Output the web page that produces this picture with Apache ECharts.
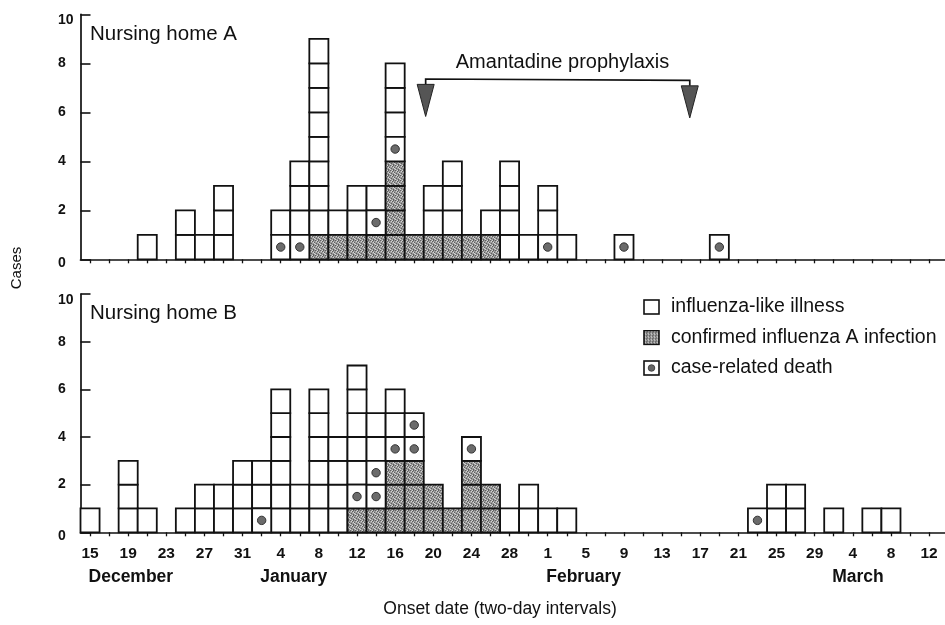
<!DOCTYPE html>
<html><head><meta charset="utf-8">
<script src="https://cdn.jsdelivr.net/npm/echarts@6/dist/echarts.min.js"></script>
<style>html,body{margin:0;padding:0;background:#fff}#c{width:945px;height:625px}</style>
</head><body><div id="c"></div>
<script>
// Two-day onset bins (category axis), Dec 15 .. Mar 14 (leap year)
const dayLabels = [
  'Dec 15','Dec 17','Dec 19','Dec 21','Dec 23','Dec 25','Dec 27','Dec 29','Dec 31',
  'Jan 2','Jan 4','Jan 6','Jan 8','Jan 10','Jan 12','Jan 14','Jan 16','Jan 18','Jan 20','Jan 22','Jan 24','Jan 26','Jan 28','Jan 30',
  'Feb 1','Feb 3','Feb 5','Feb 7','Feb 9','Feb 11','Feb 13','Feb 15','Feb 17','Feb 19','Feb 21','Feb 23','Feb 25','Feb 27','Feb 29',
  'Mar 2','Mar 4','Mar 6','Mar 8','Mar 10','Mar 12','Mar 14'
];
const monthLabels = [['December','Dec 15'],['January','Jan 2'],['February','Feb 1'],['March','Mar 2']];
const yTicks = [0, 2, 4, 6, 8, 10];

// Nursing home A
const homeA_dates = ['Dec 21','Dec 25','Dec 27','Dec 29','Jan 4','Jan 6','Jan 8','Jan 10','Jan 12','Jan 14','Jan 16','Jan 18','Jan 20','Jan 22','Jan 24','Jan 26','Jan 28','Jan 30','Feb 1','Feb 3','Feb 9','Feb 19'];
const homeA_cases = [1,2,1,3,2,4,9,2,3,3,8,1,3,4,1,2,4,1,3,1,1,1];
const homeA_confirmed = [0,0,0,0,0,0,1,1,1,1,4,1,1,1,1,1,0,0,0,0,0,0];
const homeA_deaths = [['Jan 4',1],['Jan 6',1],['Jan 14',2],['Jan 16',5],['Feb 1',1],['Feb 9',1],['Feb 19',1]];

// Nursing home B
const homeB_dates = ['Dec 15','Dec 19','Dec 21','Dec 25','Dec 27','Dec 29','Dec 31','Jan 2','Jan 4','Jan 6','Jan 8','Jan 10','Jan 12','Jan 14','Jan 16','Jan 18','Jan 20','Jan 22','Jan 24','Jan 26','Jan 28','Jan 30','Feb 1','Feb 3','Feb 23','Feb 25','Feb 27','Mar 2','Mar 6','Mar 8'];
const homeB_cases = [1,3,1,1,2,2,3,3,6,2,6,4,7,5,6,5,2,1,4,2,1,2,1,1,1,2,2,1,1,1];
const homeB_confirmed = [0,0,0,0,0,0,0,0,0,0,0,0,1,1,3,3,2,1,3,2,0,0,0,0,0,0,0,0,0,0];
const homeB_deaths = [['Jan 2',1],['Jan 12',2],['Jan 14',2],['Jan 14',3],['Jan 16',4],['Jan 18',4],['Jan 18',5],['Jan 24',4],['Feb 23',1]];

// Amantadine prophylaxis annotation (bin positions)
const amantadine = { label: 'Amantadine prophylaxis', from: 17.6, to: 31.45 };

const names = { ili: 'influenza-like illness', conf: 'confirmed influenza A infection', death: 'case-related death' };

const idx = d => dayLabels.indexOf(d);
function buildBoxes(dates, cases, confirmed, deaths) {
  const ili = [], conf = [], death = [];
  dates.forEach((d, k) => {
    const x = idx(d);
    for (let lvl = 1; lvl <= cases[k]; lvl++) {
      if (lvl <= confirmed[k]) conf.push([x, lvl]);
      else if (deaths.some(([dd, l]) => dd === d && l === lvl)) death.push([x, lvl]);
      else ili.push([x, lvl]);
    }
  });
  return { ili, conf, death };
}
const boxesA = buildBoxes(homeA_dates, homeA_cases, homeA_confirmed, homeA_deaths);
const boxesB = buildBoxes(homeB_dates, homeB_cases, homeB_confirmed, homeB_deaths);

function makeStipple(base, dark, light) {
  const c = document.createElement('canvas'); c.width = 5; c.height = 5;
  const g = c.getContext('2d');
  g.fillStyle = base; g.fillRect(0, 0, 5, 5);
  g.fillStyle = dark; [[0,0],[2,1],[4,2],[1,3],[3,4],[3,0]].forEach(([x,y]) => g.fillRect(x, y, 1, 1));
  g.fillStyle = light; [[1,1],[3,2],[0,4],[4,3],[2,0]].forEach(([x,y]) => g.fillRect(x, y, 1, 1));
  return c;
}
const stipple = { image: makeStipple('#9a9a9a', '#5e5e5e', '#d4d4d4'), repeat: 'repeat' };

const INK = '#111';
const FONT = 'Liberation Sans, Arial, sans-serif';

function boxRenderer(kind) {
  return function (params, api) {
    const x = api.value(0), lvl = api.value(1);
    const b = api.coord([x, lvl - 1]), t = api.coord([x, lvl]);
    const w = api.size([1, 0])[0];
    const rect = { type: 'rect', shape: { x: b[0] - w / 2, y: t[1], width: w, height: b[1] - t[1] },
      style: { fill: kind === 'conf' ? stipple : '#fff', stroke: INK, lineWidth: 1.8 } };
    if (kind !== 'death') return rect;
    return { type: 'group', children: [rect,
      { type: 'circle', shape: { cx: b[0], cy: (t[1] + b[1]) / 2, r: 4.2 }, style: { fill: '#6b6b6b', stroke: '#333', lineWidth: 1 } }] };
  };
}

function boxSeries(boxes, gi) {
  return ['ili', 'conf', 'death'].map(k => ({
    type: 'custom', name: names[k], xAxisIndex: gi, yAxisIndex: gi, silent: true,
    renderItem: boxRenderer(k), encode: { x: 0, y: 1 }, data: boxes[k]
  }));
}

function svgIcon(inner) {
  return 'image://data:image/svg+xml;charset=utf-8,' + encodeURIComponent(
    "<svg xmlns='http://www.w3.org/2000/svg' width='17' height='16' viewBox='0 0 17 16'>" + inner + "</svg>");
}
const iconIli = svgIcon("<rect x='1' y='1' width='15' height='14' fill='#fff' stroke='#111' stroke-width='1.6'/>");
const iconConf = svgIcon("<defs><pattern id='p' width='3' height='3' patternUnits='userSpaceOnUse'><rect width='3' height='3' fill='#999'/><rect width='1' height='1' fill='#444'/><rect x='2' y='1' width='1' height='1' fill='#ddd'/><rect x='1' y='2' width='1' height='1' fill='#555'/></pattern></defs><rect x='1' y='1' width='15' height='14' fill='url(#p)' stroke='#111' stroke-width='1.6'/>");
const iconDeath = svgIcon("<rect x='1' y='1' width='15' height='14' fill='#fff' stroke='#111' stroke-width='1.6'/><circle cx='8.5' cy='8' r='3.3' fill='#666' stroke='#333' stroke-width='0.8'/>");

function xAxisCfg(gi, showLabels) {
  return {
    type: 'category', gridIndex: gi, data: dayLabels, boundaryGap: true,
    axisLine: { show: true, lineStyle: { color: INK, width: 1.7 } },
    axisTick: { show: true, alignWithLabel: true, interval: 0, length: 4, lineStyle: { color: INK, width: 1.3 } },
    axisLabel: { show: showLabels, interval: 1, margin: 13, color: INK, fontSize: 15.5, fontWeight: 'bold', fontFamily: FONT,
      formatter: v => v.split(' ')[1] },
    splitLine: { show: false }
  };
}
const yLabelFont = { color: INK, fontSize: 14, fontWeight: 'bold', fontFamily: FONT };
function yAxisCfg(gi) {
  return {
    type: 'value', gridIndex: gi, min: yTicks[0], max: yTicks[yTicks.length - 1], interval: 2,
    axisLine: { show: true, lineStyle: { color: INK, width: 1.7 } },
    axisTick: { show: true, inside: true, length: 10, lineStyle: { color: INK, width: 1.6 } },
    axisLabel: { show: true, margin: 22.5, align: 'left', ...yLabelFont,
      formatter: v => v === yTicks[yTicks.length - 1] ? '{top|' + v + '}' : (v === yTicks[0] ? '{bot|' + v + '}' : String(v)),
      rich: { top: { ...yLabelFont, padding: [12, 0, 0, 0] }, bot: { ...yLabelFont, padding: [8, 0, 0, 0] } } },
    splitLine: { show: false }
  };
}

const annotationSeries = {
  type: 'custom', xAxisIndex: 0, yAxisIndex: 0, silent: true, clip: false, data: [[0, 0]],
  renderItem: function (params, api) {
    const w = api.size([1, 0])[0];
    const at = (xf, y) => { const p = api.coord([Math.floor(xf), y]); return [p[0] + (xf - Math.floor(xf)) * w, p[1]]; };
    const L = at(amantadine.from, 7.36), R = at(amantadine.to, 7.3);
    const Lt = at(amantadine.from, 7.14), Rt = at(amantadine.to, 7.08);
    const Lp = at(amantadine.from, 5.83), Rp = at(amantadine.to, 5.77);
    const mid = at((amantadine.from + amantadine.to) / 2 + 0.25, 8.05);
    const tri = (top, tip) => ({ type: 'polygon', shape: { points: [[top[0] - 8.5, top[1]], [top[0] + 8.5, top[1]], [tip[0], tip[1]]] },
      style: { fill: '#555', stroke: '#222', lineWidth: 1 } });
    return { type: 'group', children: [
      { type: 'polyline', shape: { points: [Lt, L, R, Rt] }, style: { fill: null, stroke: INK, lineWidth: 1.7 } },
      tri(Lt, Lp), tri(Rt, Rp),
      { type: 'text', style: { text: amantadine.label, x: mid[0], y: mid[1], align: 'center', verticalAlign: 'middle',
        fill: INK, fontSize: 20, fontFamily: FONT } }
    ] };
  }
};

const monthSeries = {
  type: 'custom', xAxisIndex: 1, yAxisIndex: 1, silent: true, clip: false,
  data: monthLabels.map(m => [idx(m[1]), 0]),
  renderItem: function (params, api) {
    const p = api.coord([api.value(0), 0]);
    return { type: 'text', style: { text: monthLabels[params.dataIndex][0], x: p[0] - 1.5, y: p[1] + 45,
      align: 'left', verticalAlign: 'middle', fill: INK, fontSize: 17.5, fontWeight: 'bold', fontFamily: FONT } };
  }
};

const chart = echarts.init(document.getElementById('c'));
chart.setOption({
  animation: false,
  backgroundColor: '#fff',
  textStyle: { fontFamily: FONT },
  title: [
    { text: 'Nursing home A', left: 90, top: 24, padding: 0, textStyle: { fontSize: 20.5, fontWeight: 'normal', color: INK, fontFamily: FONT } },
    { text: 'Nursing home B', left: 90, top: 303, padding: 0, textStyle: { fontSize: 20.5, fontWeight: 'normal', color: INK, fontFamily: FONT } }
  ],
  legend: {
    orient: 'vertical', left: 643, top: 297, padding: 0, itemWidth: 17, itemHeight: 16, itemGap: 10.5,
    textStyle: { fontSize: 19.5, color: INK, fontFamily: FONT, padding: [0, 0, 0, 6] },
    selectedMode: false,
    data: [ { name: names.ili, icon: iconIli }, { name: names.conf, icon: iconConf }, { name: names.death, icon: iconDeath } ]
  },
  grid: [
    { left: 80.5, top: 14.3, width: 877.2, height: 245, outerBoundsMode: 'none' },
    { left: 80.5, top: 294, width: 877.2, height: 238.3, outerBoundsMode: 'none' }
  ],
  xAxis: [ xAxisCfg(0, false), xAxisCfg(1, true) ],
  yAxis: [ yAxisCfg(0), yAxisCfg(1) ],
  graphic: [
    { type: 'text', x: 17, y: 268, rotation: Math.PI / 2, style: { text: 'Cases', align: 'center', verticalAlign: 'middle', fill: INK, fontSize: 15, fontFamily: FONT } },
    { type: 'text', x: 500, y: 609, style: { text: 'Onset date (two-day intervals)', align: 'center', verticalAlign: 'middle', fill: INK, fontSize: 17.5, fontFamily: FONT } }
  ],
  series: [ ...boxSeries(boxesA, 0), ...boxSeries(boxesB, 1), annotationSeries, monthSeries ]
});
</script>
</body></html>
